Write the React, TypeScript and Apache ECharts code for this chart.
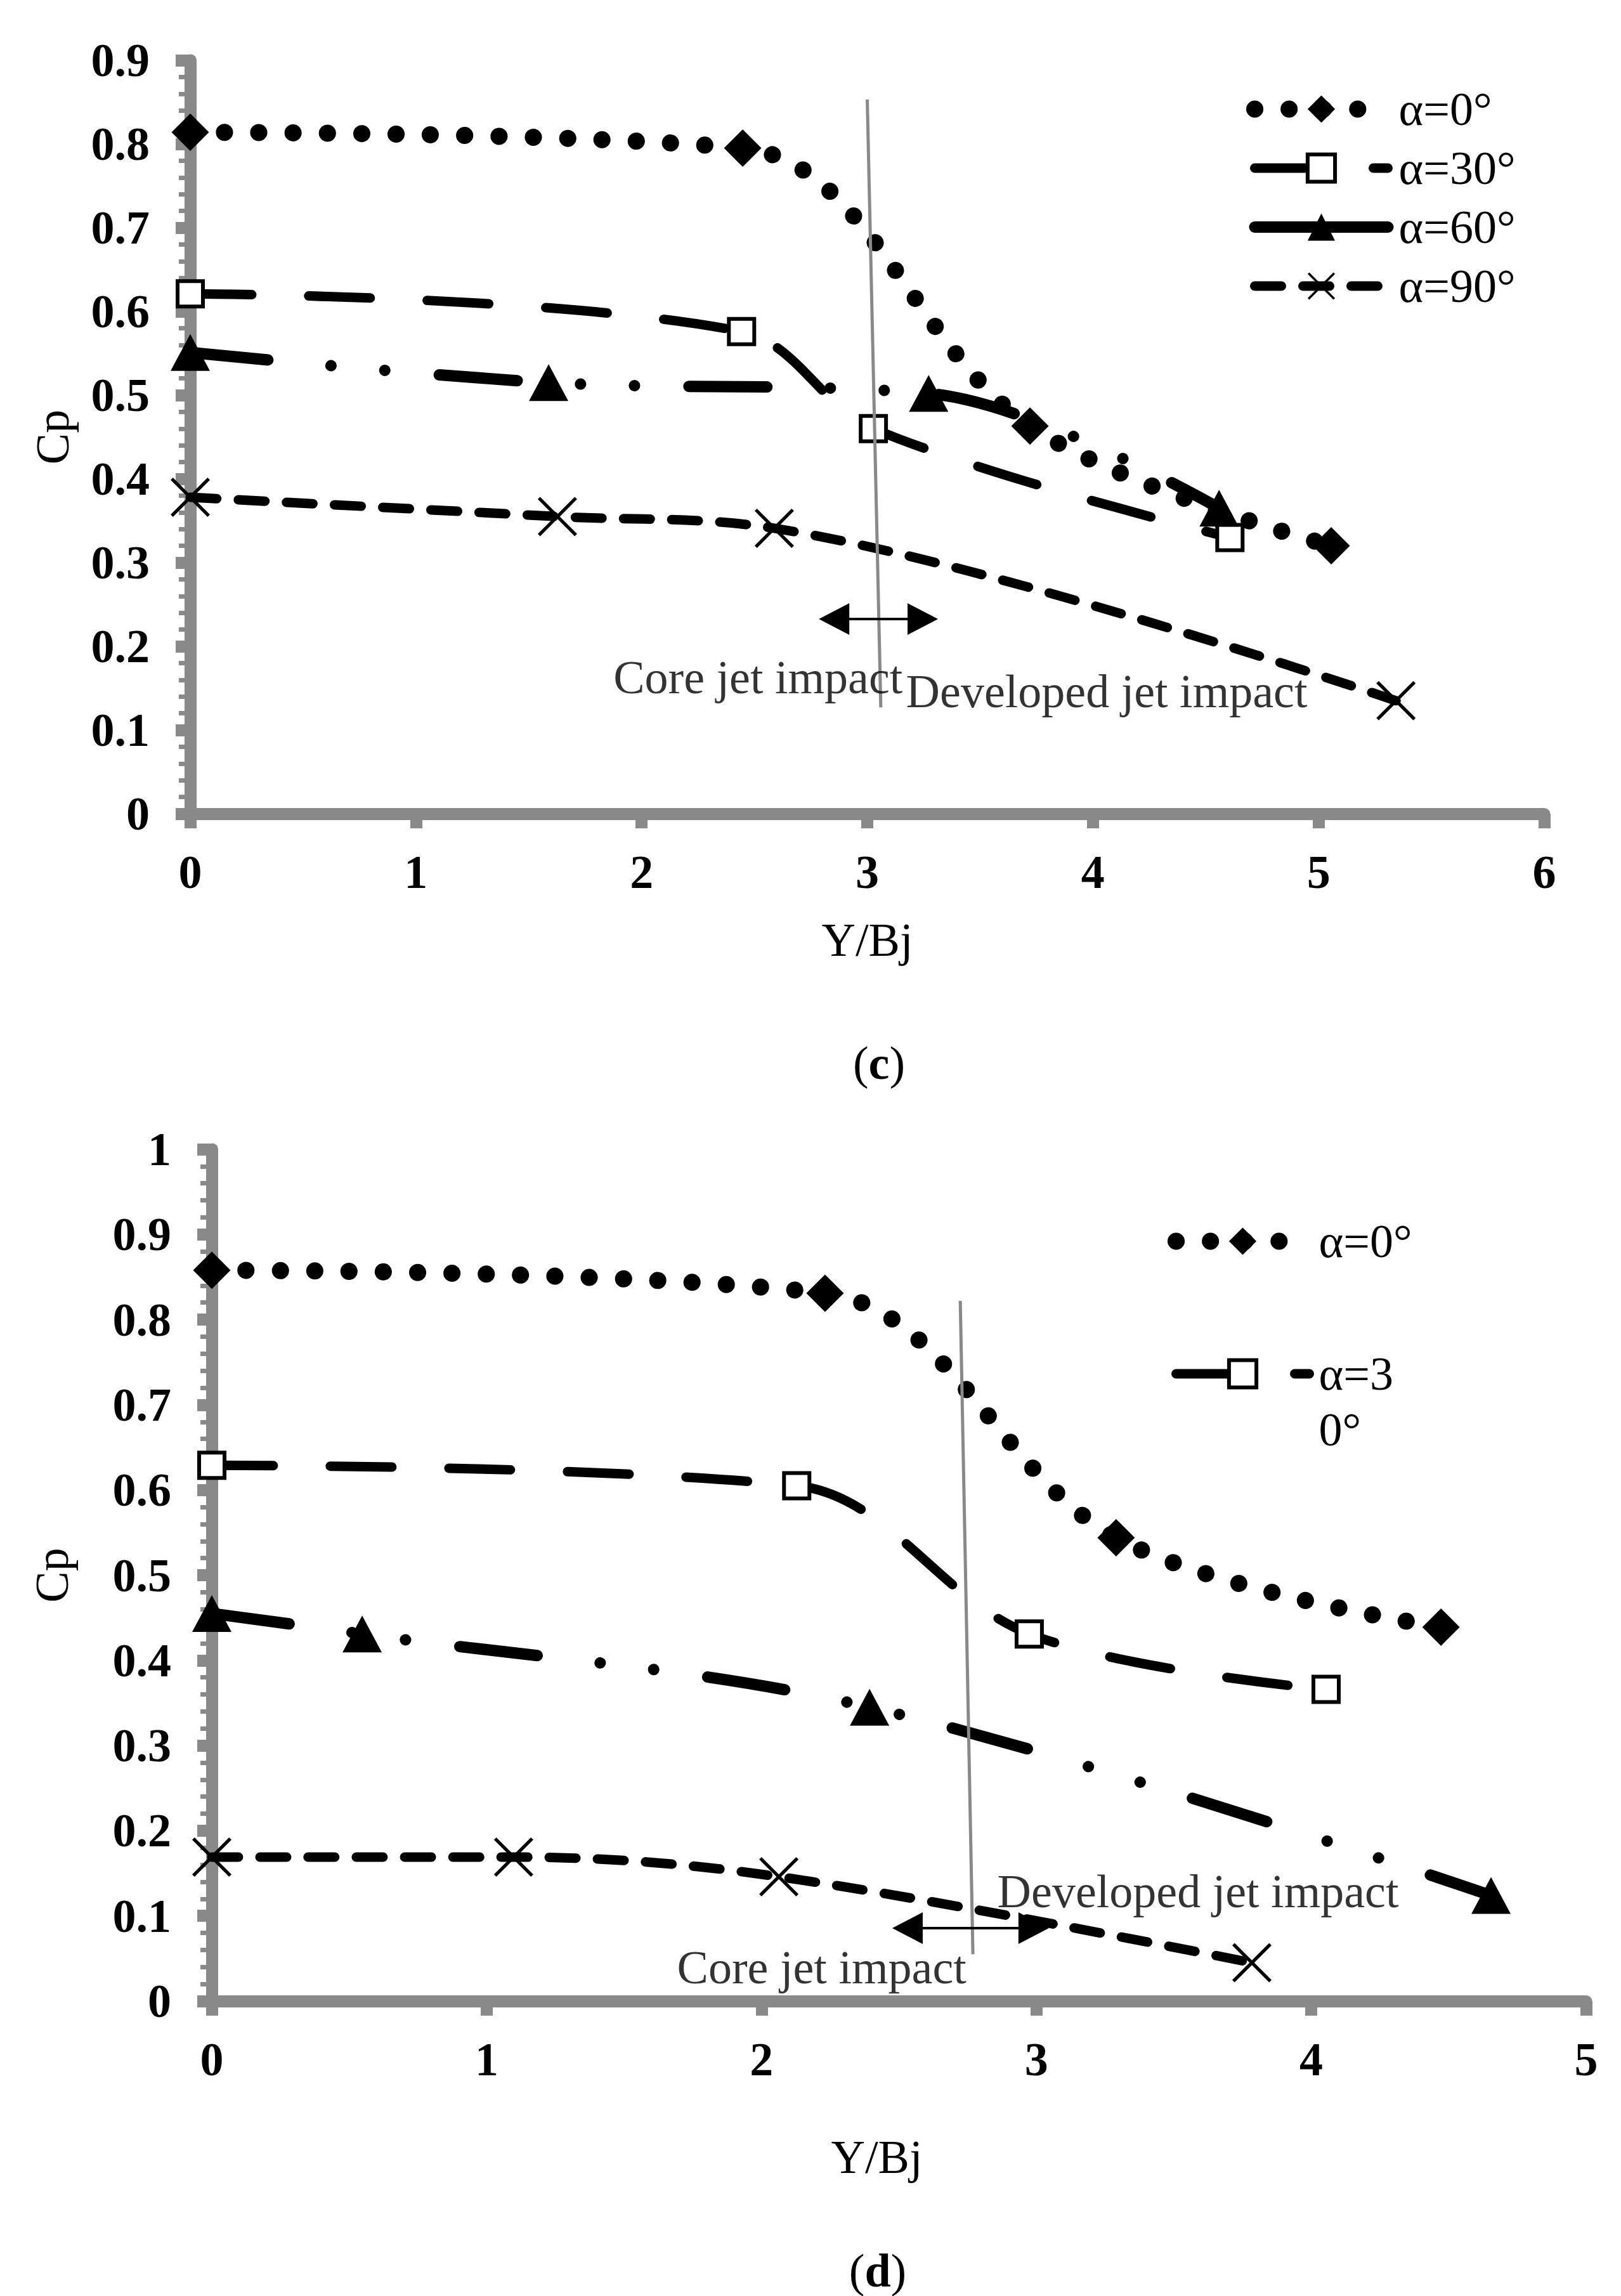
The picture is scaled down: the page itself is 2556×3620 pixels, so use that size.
import React, { useEffect, useRef } from "react";
import * as echarts from "echarts";

// ---------- DATA ----------
const seriesNames = ["α=0°", "α=30°", "α=60°", "α=90°"];

// Panel (c): [Y/Bj, Cp]
const cAlpha0 = [[0, 0.814], [2.448, 0.795], [3.721, 0.463], [5.056, 0.32]];
const cAlpha30 = [[0, 0.621], [2.443, 0.576], [3.027, 0.46], [4.607, 0.33]];
const cAlpha60 = [[0, 0.551], [1.588, 0.515], [3.272, 0.502], [4.559, 0.365]];
const cAlpha90 = [[0, 0.378], [1.627, 0.355], [2.588, 0.341], [5.343, 0.135]];

// Panel (d)
const dAlpha0 = [[0, 0.858], [2.231, 0.831], [3.29, 0.544], [4.472, 0.439]];
const dAlpha30 = [[0, 0.629], [2.128, 0.605], [2.974, 0.431], [4.054, 0.366]];
const dAlpha60 = [[0, 0.455], [0.547, 0.431], [2.393, 0.345], [4.654, 0.124]];
const dAlpha90 = [[0, 0.169], [1.098, 0.169], [2.063, 0.146], [3.784, 0.045]];

// Axis ranges
const cXRange = [0, 6];
const cYRange = [0, 0.9];
const dXRange = [0, 5];
const dYRange = [0, 1];

// Annotations (data coordinates)
const cDivider = [[3.0, 0.853], [3.06, 0.127]];
const cArrow = [[2.853, 0.2326], [3.246, 0.2326]];
const dDivider = [[2.723, 0.822], [2.769, 0.055]];
const dArrow = [[2.531, 0.0856], [2.99, 0.0856]];
const cNotes = [
  { name: "Core jet impact", value: [2.516, 0.163] },
  { name: "Developed jet impact", value: [4.061, 0.146] },
];
const dNotes = [
  { name: "Core jet impact", value: [2.219, 0.0395] },
  { name: "Developed jet impact", value: [3.588, 0.129] },
];

// ---------- STYLE ----------
const FONT = "Liberation Serif";
const GRAY = "#898989";
const FS = 74;
const X_PATH =
  "path://M0,6L6,0L50,44L94,0L100,6L56,50L100,94L94,100L50,56L6,100L0,94L44,50Z";

const styles: any[] = [
  {
    symbol: "diamond",
    symbolSize: 59,
    itemStyle: { color: "#000", borderWidth: 0 },
    lineStyle: { color: "#000", width: 27, type: [0.1, 54], cap: "round" },
  },
  {
    symbol: "rect",
    symbolSize: 40,
    itemStyle: { color: "#fff", borderColor: "#000", borderWidth: 6 },
    lineStyle: { color: "#000", width: 15, type: [97, 90], cap: "round" },
  },
  {
    symbol: "triangle",
    symbolSize: [62, 58],
    itemStyle: { color: "#000", borderWidth: 0 },
    lineStyle: {
      color: "#000",
      width: 18,
      type: [123, 100, 0.1, 85, 0.1, 86],
      cap: "round",
    },
  },
  {
    symbol: X_PATH,
    symbolSize: 62,
    itemStyle: { color: "#000", borderWidth: 0 },
    lineStyle: { color: "#000", width: 15, type: [42, 34], cap: "round" },
  },
];

// legend icon styles (Excel draws the α=60° key as a solid bar)
function legendItem(i: number, extra: any = {}) {
  const ls = { ...styles[i].lineStyle };
  if (i === 2) ls.type = "solid";
  return { name: seriesNames[i], itemStyle: { ...styles[i].itemStyle }, lineStyle: ls, ...extra };
}

function makeAxisX(gridIndex: number, range: number[], nameGap: number, namePad: number[]) {
  return {
    type: "value",
    gridIndex,
    min: range[0],
    max: range[1],
    interval: 1,
    name: "Y/Bj",
    nameLocation: "middle",
    nameGap,
    nameTextStyle: { fontFamily: FONT, fontSize: FS, color: "#000", padding: namePad },
    axisLine: { show: true, onZero: false, lineStyle: { color: GRAY, width: 19 } },
    axisTick: { show: true, length: 23, lineStyle: { color: GRAY, width: 19 } },
    axisLabel: {
      margin: 55,
      fontFamily: FONT,
      fontSize: FS,
      fontWeight: "bold",
      color: "#000",
    },
    splitLine: { show: false },
  };
}

function makeAxisY(gridIndex: number, range: number[], nameGap: number) {
  return {
    type: "value",
    gridIndex,
    min: range[0],
    max: range[1],
    interval: 0.1,
    name: "Cp",
    nameLocation: "middle",
    nameRotate: 90,
    nameGap,
    nameTextStyle: { fontFamily: FONT, fontSize: FS, color: "#000" },
    axisLine: { show: true, onZero: false, lineStyle: { color: GRAY, width: 19 } },
    axisTick: { show: true, length: 23, lineStyle: { color: GRAY, width: 19 } },
    minorTick: { show: true, splitNumber: 5, length: 18, lineStyle: { color: GRAY, width: 7 } },
    axisLabel: {
      margin: 64,
      fontFamily: FONT,
      fontSize: FS,
      fontWeight: "bold",
      color: "#000",
    },
    splitLine: { show: false },
    minorSplitLine: { show: false },
  };
}

function dataSeries(idx: number, datasets: number[][][]) {
  return datasets.map((d, i) => ({
    type: "line",
    name: seriesNames[i],
    xAxisIndex: idx,
    yAxisIndex: idx,
    data: d,
    smooth: 0.35,
    showSymbol: true,
    z: 3,
    silent: true,
    ...styles[i],
  }));
}

function annotSeries(idx: number, divider: number[][], arrow: number[][], notes: any[]) {
  return [
    {
      type: "line",
      name: "annot-lines-" + idx,
      xAxisIndex: idx,
      yAxisIndex: idx,
      data: [],
      silent: true,
      markLine: {
        silent: true,
        animation: false,
        label: { show: false },
        symbol: ["triangle", "triangle"],
        symbolSize: [50, 48],
        data: [
          [
            {
              coord: divider[0],
              symbol: "none",
              lineStyle: { color: GRAY, width: 5, type: "solid" },
            },
            { coord: divider[1], symbol: "none" },
          ],
          [
            {
              coord: arrow[0],
              lineStyle: { color: "#000", width: 4, type: "solid" },
              itemStyle: { color: "#000" },
            },
            { coord: arrow[1] },
          ],
        ],
      },
    },
    {
      type: "scatter",
      name: "annot-text-" + idx,
      xAxisIndex: idx,
      yAxisIndex: idx,
      data: notes,
      symbolSize: 0,
      silent: true,
      z: 5,
      label: {
        show: true,
        position: "inside",
        formatter: "{b}",
        fontFamily: FONT,
        fontSize: FS,
        color: "#000",
      },
    },
  ];
}

export default function App() {
  const ref = useRef<HTMLDivElement>(null);

  useEffect(() => {
    if (!ref.current) return;
    const chart = echarts.init(ref.current, null, { renderer: "svg" });
    const option: any = {
      animation: false,
      backgroundColor: "#fff",
      grid: [
        { left: 300, top: 95, width: 2135, height: 1188 },
        { left: 334, top: 1812, width: 2167, height: 1343 },
      ],
      xAxis: [
        makeAxisX(0, cXRange, 162, [0, 0, 0, 0]),
        makeAxisX(1, dXRange, 209, [0, 70, 0, 0]),
      ],
      yAxis: [makeAxisY(0, cYRange, 180), makeAxisY(1, dYRange, 215)],
      legend: [
        {
          orient: "vertical",
          left: 1960,
          top: 127,
          itemWidth: 210,
          itemHeight: 54,
          itemGap: 13,
          selectedMode: false,
          data: [legendItem(0), legendItem(1), legendItem(2), legendItem(3)],
          textStyle: {
            fontFamily: FONT,
            fontSize: FS,
            color: "#000",
            lineHeight: 80,
            padding: [0, 0, 0, 12],
          },
        },
        {
          orient: "vertical",
          left: 1836,
          top: 1908,
          itemWidth: 210,
          itemHeight: 54,
          itemGap: 33,
          selectedMode: false,
          formatter: (name: string) => (name === seriesNames[1] ? " \nα=3\n0°" : name),
          data: [legendItem(0), legendItem(1)],
          textStyle: {
            fontFamily: FONT,
            fontSize: FS,
            color: "#000",
            lineHeight: 88,
            padding: [0, 0, 0, 10],
          },
        },
      ],
      graphic: [
        {
          type: "text",
          x: 1386,
          y: 1676,
          style: {
            text: "({b|c})",
            rich: { b: { fontWeight: "bold", fontSize: FS, fontFamily: FONT, fill: "#000" } },
            fontSize: FS,
            fontFamily: FONT,
            fill: "#000",
            align: "center",
            verticalAlign: "middle",
          },
        },
        {
          type: "text",
          x: 1384,
          y: 3580,
          style: {
            text: "({b|d})",
            rich: { b: { fontWeight: "bold", fontSize: FS, fontFamily: FONT, fill: "#000" } },
            fontSize: FS,
            fontFamily: FONT,
            fill: "#000",
            align: "center",
            verticalAlign: "middle",
          },
        },
      ],
      series: [
        ...dataSeries(0, [cAlpha0, cAlpha30, cAlpha60, cAlpha90]),
        ...dataSeries(1, [dAlpha0, dAlpha30, dAlpha60, dAlpha90]),
        ...annotSeries(0, cDivider, cArrow, cNotes),
        ...annotSeries(1, dDivider, dArrow, dNotes),
      ],
    };
    chart.setOption(option);
    return () => chart.dispose();
  }, []);

  return (
    <div
      ref={ref}
      style={{ position: "absolute", left: 0, top: 0, width: 2556, height: 3620, background: "#fff" }}
    />
  );
}
